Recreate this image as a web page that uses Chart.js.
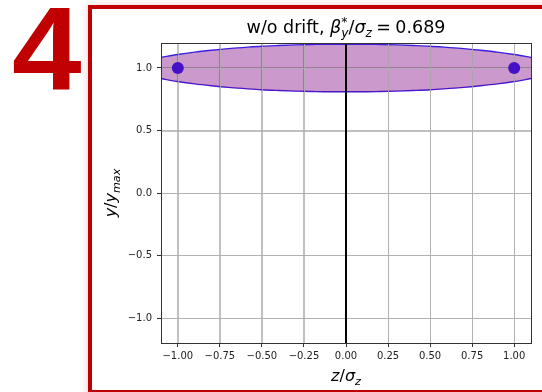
<!DOCTYPE html>
<html>
<head>
<meta charset="utf-8">
<script src="https://cdn.jsdelivr.net/npm/chart.js@4.4.0/dist/chart.umd.min.js"></script>
<style>
    html, body { margin: 0; padding: 0; background: #fff; overflow: hidden; }
    #wrap { position: relative; width: 542px; height: 392px; overflow: hidden; }
    #num { position: absolute; left: 12px; top: -10px; font: bold 118px "Liberation Sans", Arial, sans-serif; line-height: 118px; color: #c00000; transform: scaleX(1.06); transform-origin: left top; }
    #frame { position: absolute; left: 88px; top: 5px; width: 520px; height: 389px; box-sizing: border-box; border: 4px solid #c00000; background: #fff; box-shadow: 0 0 6px 2px rgba(200, 0, 0, 0.12); }
    #chart { position: absolute; left: 0; top: 0; }
</style>
</head>
<body>
<div id="wrap">
    <div id="num">4</div>
    <div id="frame"></div>
    <canvas id="chart" width="542" height="392"></canvas>
</div>
<script>
// valores (z/sigma_z e y/y_max)
const zGrid  = [-1.1, -1.0, -0.9, -0.8, -0.7, -0.6, -0.5, -0.4, -0.3, -0.2, -0.1, 0.0,
                0.1, 0.2, 0.3, 0.4, 0.5, 0.6, 0.7, 0.8, 0.9, 1.0, 1.1];
const yUpper = [1.084, 1.108, 1.127, 1.142, 1.155, 1.165, 1.174, 1.180, 1.185, 1.188, 1.190, 1.190,
                1.190, 1.188, 1.185, 1.180, 1.174, 1.165, 1.155, 1.142, 1.127, 1.108, 1.084];
const yLower = [0.916, 0.892, 0.873, 0.858, 0.845, 0.835, 0.826, 0.820, 0.815, 0.812, 0.810, 0.810,
                0.810, 0.812, 0.815, 0.820, 0.826, 0.835, 0.845, 0.858, 0.873, 0.892, 0.916];
const zPoints = [-1.0, 1.0];
const yPoints = [1.0, 1.0];
const zLine = [0.0, 0.0];
const yLine = [-1.2, 1.2];
const xTicks = [-1.0, -0.75, -0.5, -0.25, 0.0, 0.25, 0.5, 0.75, 1.0];
const yTicks = [-1.0, -0.5, 0.0, 0.5, 1.0];
const xLimits = [-1.1, 1.1];
const yLimits = [-1.2, 1.2];

const FAMILY = '"DejaVu Sans", sans-serif';
const pares = (xs, ys) => xs.map((x, i) => ({ x: x, y: ys[i] }));
const fmt = (v, d) => v.toFixed(d).replace('-', '\u2212');

// texto estilo mathtext: [texto, tipo, empilhar]
function fonte(tipo, size) {
    const small = tipo === 'sub' || tipo === 'sup';
    const italic = tipo === 'i' || tipo === 'sub';
    return (italic ? 'italic ' : '') + (small ? size * 0.7 : size) + 'px ' + FAMILY;
}
function montar(ctx, partes, size) {
    let x = 0, pend = 0;
    const runs = [];
    partes.forEach(([t, tipo, stack]) => {
        ctx.font = fonte(tipo, size);
        const w = ctx.measureText(t).width;
        const dy = tipo === 'sub' ? size * 0.22 : (tipo === 'sup' ? -size * 0.4 : 0);
        runs.push({ t: t, font: ctx.font, x: x, dy: dy });
        if (stack) { pend = Math.max(pend, w); }
        else { x += Math.max(pend, w); pend = 0; }
    });
    return { runs: runs, width: x };
}
function desenhar(ctx, partes, size, cx, baseline) {
    const m = montar(ctx, partes, size);
    ctx.fillStyle = '#000';
    ctx.textAlign = 'left';
    ctx.textBaseline = 'alphabetic';
    m.runs.forEach(r => {
        ctx.font = r.font;
        ctx.fillText(r.t, cx - m.width / 2 + r.x, baseline + r.dy);
    });
}

const tituloPartes = [['w/o drift, ', 'n'], ['\u03b2', 'i'], ['*', 'sup', true], ['y', 'sub'],
                      ['/', 'n'], ['\u03c3', 'i'], ['z', 'sub'], ['\u2005=\u20050.689', 'n']];
const xLabelPartes = [['z', 'i'], ['/', 'n'], ['\u03c3', 'i'], ['z', 'sub']];
const yLabelPartes = [['y', 'i'], ['/', 'n'], ['y', 'i'], ['max', 'sub']];

const textos = {
    id: 'textos',
    afterDatasetDraw(chart, args) {
        // grade por cima do preenchimento, como no matplotlib
        if (args.index !== 2) return;
        const { ctx, chartArea: a, scales } = chart;
        ctx.save();
        ctx.strokeStyle = '#b0b0b0';
        ctx.lineWidth = 0.8;
        ctx.beginPath();
        xTicks.forEach(v => {
            const px = Math.round(scales.x.getPixelForValue(v)) + 0.5;
            ctx.moveTo(px, a.top); ctx.lineTo(px, a.bottom);
        });
        yTicks.forEach(v => {
            const py = Math.round(scales.y.getPixelForValue(v)) + 0.5;
            ctx.moveTo(a.left, py); ctx.lineTo(a.right, py);
        });
        ctx.stroke();
        ctx.restore();
    },
    afterDraw(chart) {
        const { ctx, chartArea: a } = chart;
        ctx.save();
        ctx.strokeStyle = '#333';
        ctx.lineWidth = 1;
        ctx.strokeRect(Math.round(a.left) + 0.5, Math.round(a.top) + 0.5,
                       Math.round(a.right - a.left), Math.round(a.bottom - a.top));
        const cx = (a.left + a.right) / 2;
        desenhar(ctx, tituloPartes, 17.5, cx, 33);
        desenhar(ctx, xLabelPartes, 16, cx, 381);
        ctx.translate(116, (a.top + a.bottom) / 2);
        ctx.rotate(-Math.PI / 2);
        desenhar(ctx, yLabelPartes, 16, 0, 0);
        ctx.restore();
    }
};

const ctx = document.getElementById('chart').getContext('2d');
new Chart(ctx, {
    type: 'line',
    data: {
        datasets: [
            {
                data: pares(zPoints, yPoints),
                showLine: false,
                pointRadius: 6,
                pointBackgroundColor: '#4511c6',
                pointBorderColor: '#4511c6',
                pointBorderWidth: 0,
                order: 1
            },
            {
                data: pares(zLine, yLine),
                borderColor: '#000',
                borderWidth: 2,
                pointRadius: 0,
                fill: false,
                order: 2
            },
            {
                data: pares(zGrid, yUpper),
                borderColor: '#3b1ee0',
                borderWidth: 1.3,
                pointRadius: 0,
                cubicInterpolationMode: 'monotone',
                fill: '+1',
                backgroundColor: 'rgba(128, 0, 128, 0.4)',
                order: 3
            },
            {
                data: pares(zGrid, yLower),
                borderColor: '#3b1ee0',
                borderWidth: 1.3,
                pointRadius: 0,
                cubicInterpolationMode: 'monotone',
                fill: false,
                order: 4
            }
        ]
    },
    options: {
        responsive: false,
        animation: false,
        devicePixelRatio: 1,
        events: [],
        layout: { padding: { left: 90, right: 11, top: 43, bottom: 19 } },
        plugins: {
            legend: { display: false },
            tooltip: { enabled: false },
            title: { display: false }
        },
        scales: {
            x: {
                type: 'linear',
                min: xLimits[0],
                max: xLimits[1],
                afterBuildTicks: s => { s.ticks = xTicks.map(v => ({ value: v })); },
                afterFit: s => { s.height = 30; },
                ticks: {
                    callback: v => fmt(v, 2),
                    color: '#222',
                    font: { family: FAMILY, size: 10 },
                    padding: 3,
                    maxRotation: 0,
                    autoSkip: false
                },
                grid: { color: '#b0b0b0', lineWidth: 0.8, tickColor: '#333', tickLength: 4, tickWidth: 1 },
                border: { color: '#333', width: 1 }
            },
            y: {
                type: 'linear',
                min: yLimits[0],
                max: yLimits[1],
                afterBuildTicks: s => { s.ticks = yTicks.map(v => ({ value: v })); },
                afterFit: s => { s.width = 71; },
                ticks: {
                    callback: v => fmt(v, 1),
                    color: '#222',
                    font: { family: FAMILY, size: 10 },
                    padding: 5,
                    autoSkip: false
                },
                grid: { color: '#b0b0b0', lineWidth: 0.8, tickColor: '#333', tickLength: 4, tickWidth: 1 },
                border: { color: '#333', width: 1 }
            }
        }
    },
    plugins: [textos]
});
</script>
</body>
</html>
